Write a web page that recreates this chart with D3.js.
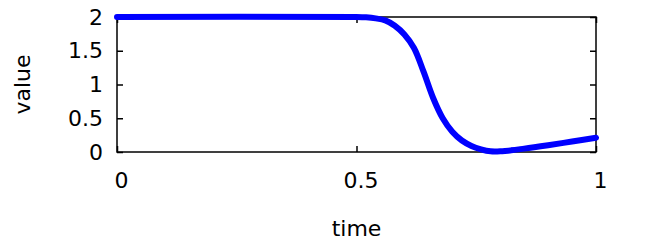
<!DOCTYPE html>
<html>
<head>
<meta charset="utf-8">
<script src="https://cdn.jsdelivr.net/npm/d3@7"></script>
<style>
  html, body { margin: 0; padding: 0; background: #fff; }
  svg { display: block; font-family: "DejaVu Sans", sans-serif; }
</style>
</head>
<body>
<svg id="chart" width="649" height="240"></svg>
<script>
  const times = [0, 0.5, 0.52, 0.54, 0.56, 0.58, 0.60, 0.62, 0.64, 0.66, 0.68, 0.70,
    0.72, 0.74, 0.76, 0.78, 0.80, 0.85, 0.90, 0.95, 1.0];
  const values = [2, 2, 1.995, 1.98, 1.95, 1.87, 1.74, 1.54, 1.19, 0.80, 0.50, 0.30,
    0.17, 0.09, 0.04, 0.01, 0.01, 0.05, 0.10, 0.155, 0.21];
  const xTicks = [0, 0.5, 1];
  const yTicks = [0, 0.5, 1, 1.5, 2];

  const svg = d3.select('#chart');
  const m = { left: 117, right: 596, top: 17, bottom: 152 };

  const x = d3.scaleLinear().domain([0, 1]).range([m.left, m.right]);
  const y = d3.scaleLinear().domain([0, 2]).range([m.bottom, m.top]);
  const fmt = d => String(d);

  // frame
  svg.append('rect')
    .attr('x', m.left).attr('y', m.top)
    .attr('width', m.right - m.left).attr('height', m.bottom - m.top)
    .attr('fill', 'none').attr('stroke', '#000').attr('stroke-width', 1.5);

  // axes with inward ticks, mirrored
  const axes = [
    d3.axisLeft(y).tickValues(yTicks).tickSize(-6).tickPadding(14).tickFormat(fmt),
    d3.axisRight(y).tickValues(yTicks).tickSize(-6).tickFormat(''),
    d3.axisBottom(x).tickValues(xTicks).tickSize(-6).tickPadding(20).tickFormat(fmt),
    d3.axisTop(x).tickValues(xTicks).tickSize(-6).tickFormat('')
  ];
  const pos = [
    `translate(${m.left},0)`, `translate(${m.right},0)`,
    `translate(0,${m.bottom})`, `translate(0,${m.top})`
  ];
  axes.forEach((a, i) => {
    const g = svg.append('g').attr('transform', pos[i]).call(a);
    g.select('.domain').remove();
    g.selectAll('.tick line').attr('stroke', '#000').attr('stroke-width', 1.5);
    g.selectAll('.tick text')
      .attr('font-family', '"DejaVu Sans", sans-serif')
      .attr('font-size', 22).attr('fill', '#000');
    if (i === 2) g.selectAll('.tick text').attr('dx', 4);
  });

  const line = d3.line()
    .x((d, i) => x(times[i]))
    .y(d => y(d))
    .curve(d3.curveCatmullRom.alpha(0.5));

  svg.append('path')
    .datum(values)
    .attr('d', line)
    .attr('fill', 'none')
    .attr('stroke', '#0000ff')
    .attr('stroke-width', 6)
    .attr('stroke-linecap', 'round')
    .attr('stroke-linejoin', 'round');

  svg.append('text')
    .attr('x', (m.left + m.right) / 2).attr('y', 236)
    .attr('text-anchor', 'middle')
    .attr('font-size', 22)
    .text('time');

  svg.append('text')
    .attr('transform', `translate(30,${(m.top + m.bottom) / 2}) rotate(-90)`)
    .attr('text-anchor', 'middle')
    .attr('font-size', 22)
    .text('value');
</script>
</body>
</html>
